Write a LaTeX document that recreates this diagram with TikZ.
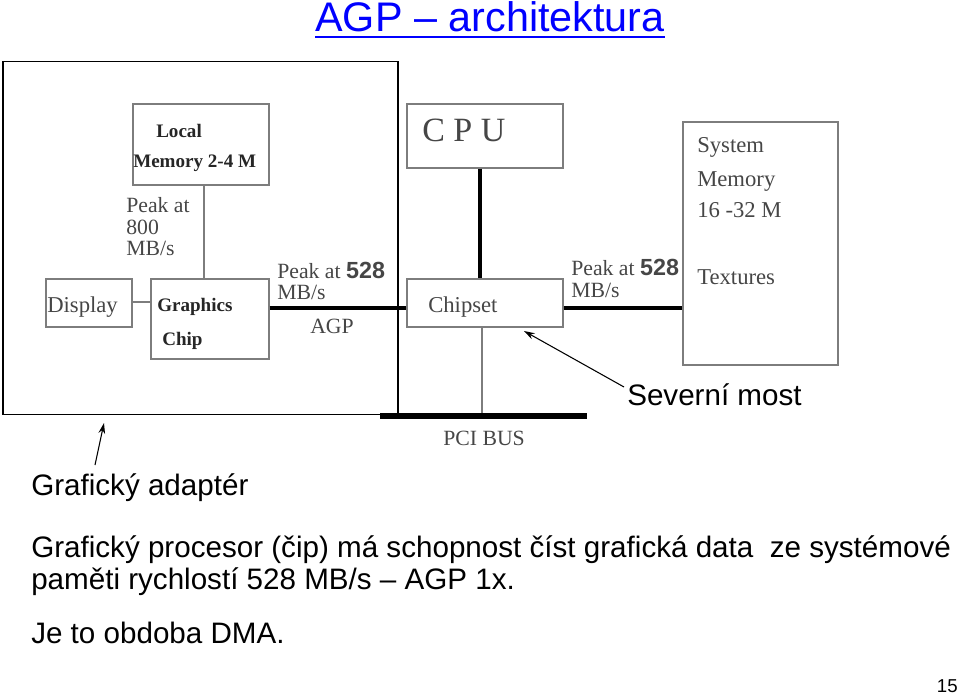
\documentclass[tikz,border=0pt]{standalone}
\usepackage{fontspec}
\setmainfont{Liberation Sans}
\newfontfamily\dserif{Liberation Serif}
\newfontfamily\dsans{Liberation Sans}
\usetikzlibrary{arrows.meta}
\definecolor{titleblue}{RGB}{0,0,255}
\definecolor{boxgray}{RGB}{125,125,125}
\definecolor{labgray}{RGB}{70,70,70}
\begin{document}
\begin{tikzpicture}[x=0.75pt,y=-0.75pt,
  gbox/.style={draw=boxgray, line width=1.1pt, inner sep=0pt, fill=white},
  lab/.style={anchor=base west, inner sep=0pt, text=labgray, font=\dserif\fontsize{16.3}{18}\selectfont},
  biglab/.style={lab, font=\dserif\fontsize{17}{19}\selectfont},
  blab/.style={anchor=base west, inner sep=0pt, text=black!85, font=\dserif\bfseries\fontsize{14.3}{16}\selectfont},
  txt/.style={anchor=base west, inner sep=0pt, font=\fontsize{22.2}{26}\selectfont},
  thinline/.style={draw=boxgray, line width=1.1pt},
  busline/.style={draw=black, line width=2.3pt},
  callout/.style={draw=black, line width=0.8pt, -{Stealth[length=8pt,width=5pt]}}
]
\useasboundingbox (0,0) rectangle (959,695);

% title
\node[anchor=base, inner sep=0pt, text=titleblue, font=\fontsize{31}{36}\selectfont] (title) at (490,32) {AGP – architektura};
\draw[titleblue, line width=1.3pt] ([yshift=-3.5pt]title.base west) -- ([yshift=-3.5pt]title.base east);

% graphics adapter frame
\node[draw=black, line width=0.8pt, inner sep=0pt, minimum width=296.25pt, minimum height=264.75pt] (adapter) at (200.5,238) {};

% coordinates for bus lines
\coordinate (agpY) at (0,308);
\coordinate (cpuX) at (480,0);
\coordinate (pciX) at (482,0);
\coordinate (lmX) at (204,0);
\coordinate (pciL) at (380,416);
\coordinate (pciR) at (587,416);

% boxes
\node[gbox, minimum width=102pt, minimum height=60.75pt] (lm) at (201,144.5) {};
\node[gbox, minimum width=64.5pt, minimum height=36pt] (disp) at (89,303) {};
\node[gbox, minimum width=88.5pt, minimum height=60pt] (gc) at (210,319) {};
\node[gbox, minimum width=117pt, minimum height=48pt] (cpu) at (485,136) {};
\node[gbox, minimum width=117pt, minimum height=36pt] (cs) at (485,303) {};
\node[gbox, minimum width=116.25pt, minimum height=182.25pt] (sm) at (760.5,243.5) {};

% connectors
\draw[thinline] (lm.south -| lmX) -- (gc.north -| lmX);
\draw[thinline] (disp.east |- 0,302) -- (gc.west |- 0,302);
\draw[busline] (gc.east |- agpY) -- (cs.west |- agpY);
\draw[busline] (cpu.south -| cpuX) -- (cs.north -| cpuX);
\draw[busline] (cs.east |- agpY) -- (sm.west |- agpY);
\draw[thinline] (cs.south -| pciX) -- (pciX |- pciL);
\draw[draw=black, line width=4.5pt] (pciL) -- (pciR);

% box texts
\node[blab] (tLocal) at (156,138) {Local};
\node[blab] (tMem) at (133,168) {Memory 2-4 M};
\node[biglab] (tDisp) at (47,312) {Display};
\node[blab] (tGr) at (157,311) {Graphics};
\node[blab] (tChip) at (162,345) {Chip};
\node[anchor=base west, inner sep=0pt, text=labgray, font=\dserif\fontsize{25.5}{28}\selectfont] (tCPU) at (422,142) {C P U};
\node[biglab] (tCs) at (428,312) {Chipset};
\node[biglab] (tSys) at (697,153) {System};
\node[biglab] (tSysM) at (697,187) {Memory};
\node[biglab] (tSys16) at (697,218) {16 -32 M};
\node[biglab] (tTex) at (697,284) {Textures};

% link labels
\node[lab] (p800a) at (126,213) {Peak at};
\node[lab] (p800b) at (126,234) {800};
\node[lab] (p800c) at (126,255) {MB/s};
\node[lab] (pA1) at (277,278) {Peak at {\dsans\bfseries\fontsize{17.5}{19}\selectfont 528}};
\node[lab] (pA2) at (277,299) {MB/s};
\node[lab] (tAGP) at (310,333) {AGP};
\node[lab] (pB1) at (571,275) {Peak at {\dsans\bfseries\fontsize{17.5}{19}\selectfont 528}};
\node[lab] (pB2) at (571,297) {MB/s};
\node[lab] (tPCI) at (443,445) {PCI BUS};

% callouts
\node[txt] (sev) at (627,405) {Severní most};
\coordinate (sevTip) at (524,331);
\coordinate (sevTail) at (624,387);
\draw[callout] (sevTail) -- (sevTip);
\node[txt] (gad) at (31,495) {Grafický adaptér};
\coordinate (gadTip) at (104,423);
\coordinate (gadTail) at (95,465);
\draw[callout] (gadTail) -- (gadTip);

% body text
\node[txt] (l1) at (31,557) {Grafický procesor (čip) má schopnost číst grafická data\ \ ze systémové};
\node[txt] (l2) at (31,589) {paměti rychlostí 528 MB/s – AGP 1x.};
\node[txt] (l3) at (31,643) {Je to obdoba DMA.};
\node[anchor=base east, inner sep=0pt, font=\fontsize{14}{16}\selectfont] (pg) at (958,692) {15};
\end{tikzpicture}
\end{document}
